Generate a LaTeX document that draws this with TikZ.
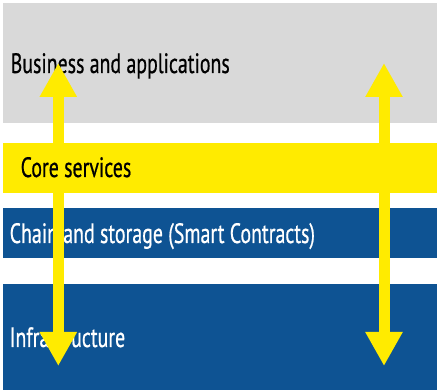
\documentclass[tikz,border=0pt]{standalone}
\usepackage{fontspec}
\setmainfont[FakeStretch=0.71,FakeBold=0.6]{PT Sans}
\usetikzlibrary{arrows.meta}
\definecolor{bandgray}{HTML}{D9D9D9}
\definecolor{bandyellow}{HTML}{FFEB00}
\definecolor{bandblue}{HTML}{0E5393}
\tikzset{
  band/.style={draw=none, anchor=north west, minimum width=434pt, inner sep=0pt, outer sep=0pt},
  bandtext/.style={anchor=base west, inner sep=0pt, font=\fontsize{28}{32}\selectfont},
  bigarrow/.style={draw=bandyellow, line width=11pt,
    {Triangle[width=35pt,length=34pt]}-{Triangle[width=35pt,length=34pt]}}
}
\begin{document}
\begin{tikzpicture}[x=1pt,y=-1pt]
\useasboundingbox (0,0) rectangle (437,390);
\node[band, fill=bandgray, minimum height=120pt] (biz) at (3,3) {};
\node[band, fill=bandyellow, minimum height=50pt] (core) at (3,143) {};
\node[band, fill=bandblue, minimum height=50pt] (chain) at (3,208) {};
\node[band, fill=bandblue, minimum height=106pt] (infra) at (3,284) {};
\node[bandtext, text=black] (biztext) at (10.5,73) {Business and applications};
\node[bandtext, text=white] (chaintext) at (9.5,243) {Chain and storage (Smart Contracts)};
\node[bandtext, text=white] (infratext) at (9.5,347) {Infrastructure};
\coordinate (l1) at (58.3,63);
\coordinate (l2) at (58.3,366);
\coordinate (r1) at (384,63);
\coordinate (r2) at (384,366);
\draw[bigarrow] (l1) -- (l2);
\draw[bigarrow] (r1) -- (r2);
\node[bandtext, text=black] (coretext) at (20.5,177) {Core services};
\end{tikzpicture}
\end{document}
